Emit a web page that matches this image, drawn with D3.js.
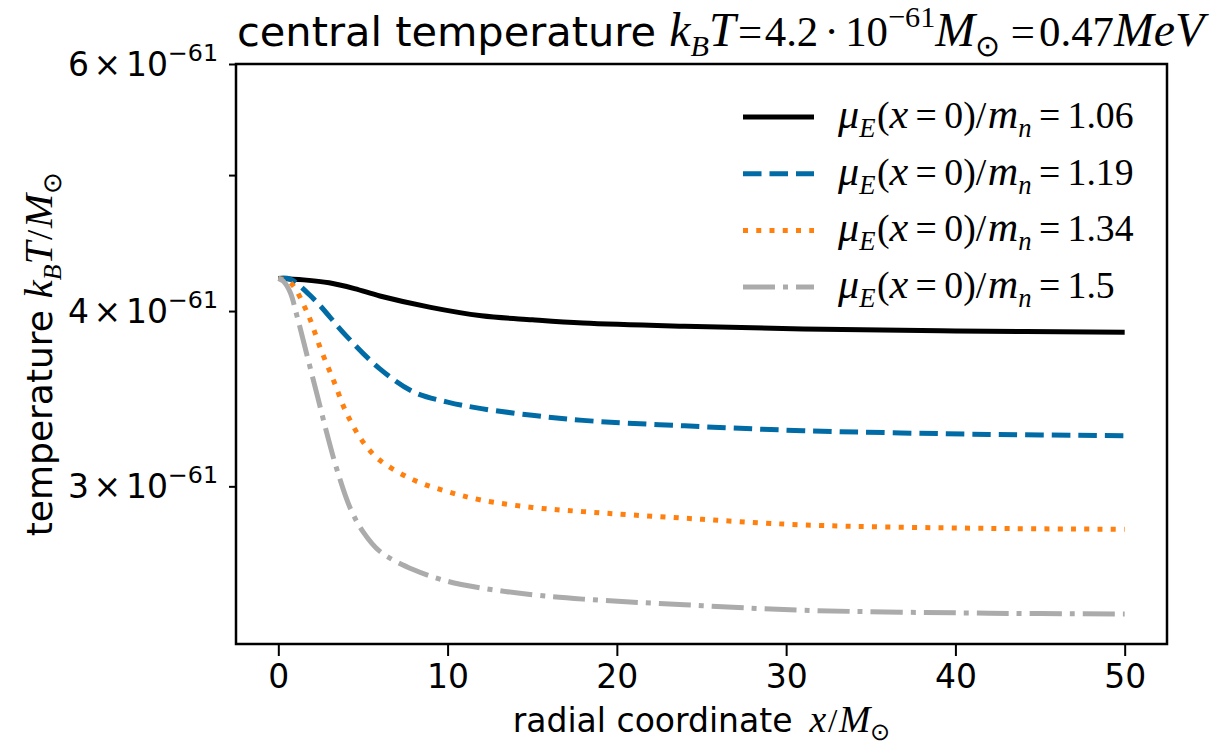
<!DOCTYPE html>
<html>
<head>
<meta charset="utf-8">
<script src="https://cdn.jsdelivr.net/npm/d3@7"></script>
<style>
  body { margin: 0; background: #fff; }
</style>
</head>
<body>
<div id="chart"></div>
<script>
// Data (temperature in units of 1e-61 M_sun)
const unit = 1e-61;
const xBlack = [0, 1.5, 3, 4.5, 6, 9, 12, 15, 18, 24, 31, 40, 50];
const tBlack = [4.22, 4.21, 4.19, 4.15, 4.10, 4.024, 3.969, 3.943, 3.922, 3.901, 3.884, 3.871, 3.863];
const xBlue = [0, 0.7, 2.1, 4, 6, 8, 10, 12, 15, 18, 24, 31, 42, 50];
const tBlue = [4.22, 4.215, 4.079, 3.842, 3.638, 3.502, 3.445, 3.408, 3.371, 3.343, 3.313, 3.287, 3.267, 3.260];
const xOrange = [0, 0.7, 1.7, 2.5, 3.3, 4, 5, 6, 8, 10, 12, 15, 18, 24, 31, 42, 50];
const tOrange = [4.22, 4.192, 3.992, 3.759, 3.560, 3.389, 3.227, 3.131, 3.031, 2.974, 2.933, 2.898, 2.878, 2.847, 2.816, 2.800, 2.796];
const xGray = [0, 0.3, 0.7, 1.1, 1.7, 2.3, 2.9, 3.5, 4.25, 5, 6, 8, 10, 12, 15, 18, 24, 31, 42, 50];
const tGray = [4.22, 4.20, 4.125, 3.969, 3.718, 3.483, 3.262, 3.073, 2.894, 2.785, 2.696, 2.616, 2.567, 2.539, 2.511, 2.493, 2.470, 2.448, 2.436, 2.433];
const muLabels = ["1.06", "1.19", "1.34", "1.5"];
const xTicks = [0, 10, 20, 30, 40, 50];
const yTicks = [3, 4, 5, 6];
const yTickLabels = ["3", "4", "", "6"];

const series = [
  {x: xBlack, t: tBlack, mu: muLabels[0], color: "#000000", dash: null},
  {x: xBlue, t: tBlue, mu: muLabels[1], color: "#006BA4", dash: "18.5,8"},
  {x: xOrange, t: tOrange, mu: muLabels[2], color: "#FF800E", dash: "5,8.25"},
  {x: xGray, t: tGray, mu: muLabels[3], color: "#ABABAB", dash: "32,8,5,8"}
];

// Chart dimensions
const W = 1221, H = 755;
const margin = {top: 64, right: 54, bottom: 111, left: 236};
const width = W - margin.left - margin.right;
const height = H - margin.top - margin.bottom;

const SANS = "DejaVu Sans";
const SERIF = "Liberation Serif";
const RS = 1.02, IS = 1.14;   // serif roman / italic size factors

const svg = d3.select("#chart")
  .append("svg")
  .attr("width", W)
  .attr("height", H);

const g = svg.append("g")
  .attr("transform", "translate(" + margin.left + "," + margin.top + ")");

// Scales
const x = d3.scaleLinear().domain([-2.5, 52.5]).range([0, width]);
const y = d3.scaleLog().domain([2.316 * unit, 6 * unit]).range([height, 0]);

// helper: text built from pieces [string, kind, dx(em)]
// kinds: s = sans, r = serif roman, i = serif italic, with optional _sub / _sup
function rich(sel, parts, size, msize) {
  msize = msize || size;
  let off = 0;
  parts.forEach(([str, kind, gap]) => {
    const [base, pos] = kind.split("_");
    let fs = base === "s" ? size : base === "r" ? msize * RS : msize * IS;
    if (pos) fs = msize * 0.72;
    let target = 0;
    if (pos === "sub") target = msize * 0.24;
    if (pos === "sup") target = -msize * 0.45;
    sel.append("tspan")
      .attr("dy", target - off)
      .attr("dx", (gap || 0) * msize)
      .style("font-family", base === "s" ? SANS : SERIF)
      .style("font-style", base === "i" ? "italic" : "normal")
      .style("font-size", fs + "px")
      .text(str);
    off = target;
  });
}

// Clip for lines
svg.append("defs").append("clipPath").attr("id", "clip")
  .append("rect").attr("width", width).attr("height", height);

// Lines
const line = d3.line()
  .x(d => x(d[0]))
  .y(d => y(d[1] * unit))
  .curve(d3.curveCatmullRom.alpha(0.5));

g.append("g").attr("clip-path", "url(#clip)")
  .selectAll("path")
  .data(series)
  .enter().append("path")
  .attr("d", s => line(s.x.map((v, i) => [v, s.t[i]])))
  .attr("fill", "none")
  .attr("stroke", s => s.color)
  .attr("stroke-width", 5)
  .attr("stroke-dasharray", s => s.dash);

// X axis
const xAxis = g.append("g")
  .attr("transform", "translate(0," + height + ")")
  .call(d3.axisBottom(x).tickValues(xTicks).tickSize(12).tickPadding(9).tickFormat(d3.format("d")));
xAxis.select(".domain").remove();
xAxis.selectAll("line").attr("stroke-width", 2);
xAxis.selectAll("text")
  .style("font-family", SANS)
  .style("font-size", "33px")
  .attr("fill", "#000");

// Y axis (log, minor ticks labelled)
const yAxis = g.append("g")
  .call(d3.axisLeft(y).tickValues(yTicks.map(v => v * unit)).tickSize(7).tickFormat(""));
yAxis.select(".domain").remove();
yAxis.selectAll("line").attr("stroke-width", 2);

g.selectAll(".ylab")
  .data(yTicks.filter((v, i) => yTickLabels[i] !== ""))
  .enter().append("text")
  .attr("class", "ylab")
  .attr("x", -18)
  .attr("y", d => y(d * unit) + 12)
  .attr("text-anchor", "end")
  .each(function(d) {
    rich(d3.select(this), [[String(d), "s"], ["\u00d7", "s", 0.14], ["10", "s", 0.14], ["\u221261", "s_sup"]], 33);
  });

// Frame
g.append("rect")
  .attr("width", width)
  .attr("height", height)
  .attr("fill", "none")
  .attr("stroke", "#000")
  .attr("stroke-width", 2.5);

// Legend
const legend = g.selectAll(".legend")
  .data(series)
  .enter().append("g")
  .attr("transform", (d, i) => "translate(" + (743 - margin.left) + "," + (117 - margin.top + i * 56.7) + ")");

legend.append("line")
  .attr("x1", 0).attr("x2", 71)
  .attr("stroke", d => d.color)
  .attr("stroke-width", 5)
  .attr("stroke-dasharray", d => d.dash);

legend.append("text")
  .attr("x", 95)
  .attr("y", 11)
  .each(function(d) {
    rich(d3.select(this), [
      ["\u03bc", "i"], ["E", "i_sub"], ["(", "r", 0.04], ["x", "i"], ["=", "r", 0.2], ["0", "r", 0.2], [")/", "r"],
      ["m", "i", 0.04], ["n", "i_sub"], ["=", "r", 0.2], [d.mu, "r", 0.2]
    ], 37);
  });

// Title
svg.append("text")
  .attr("x", 237)
  .attr("y", 46)
  .call(t => rich(t, [
    ["central temperature ", "s"], ["k", "i"], ["B", "i_sub"], ["T", "i"], ["=", "r", 0.06], ["4.2", "r", 0.06],
    ["\u00b7", "r", 0.15], ["10", "r", 0.15], ["\u221261", "r_sup"], ["M", "i"], ["\u2299", "r_sub"],
    ["=", "r", 0.25], ["0.47", "r", 0.1], ["MeV", "i"]
  ], 41.5, 42));

// X label
svg.append("text")
  .attr("x", margin.left + width / 2)
  .attr("y", 732)
  .attr("text-anchor", "middle")
  .call(t => rich(t, [["radial coordinate ", "s"], ["x", "i", 0.2], ["/", "r", 0.05], ["M", "i", 0.05], ["\u2299", "r_sub"]], 33));

// Y label
svg.append("text")
  .attr("transform", "translate(52," + (margin.top + height / 2) + ") rotate(-90)")
  .attr("text-anchor", "middle")
  .call(t => rich(t, [["temperature ", "s"], ["k", "i"], ["B", "i_sub"], ["T", "i"], ["/", "r", 0.05], ["M", "i", 0.05], ["\u2299", "r_sub"]], 36));
</script>
</body>
</html>
